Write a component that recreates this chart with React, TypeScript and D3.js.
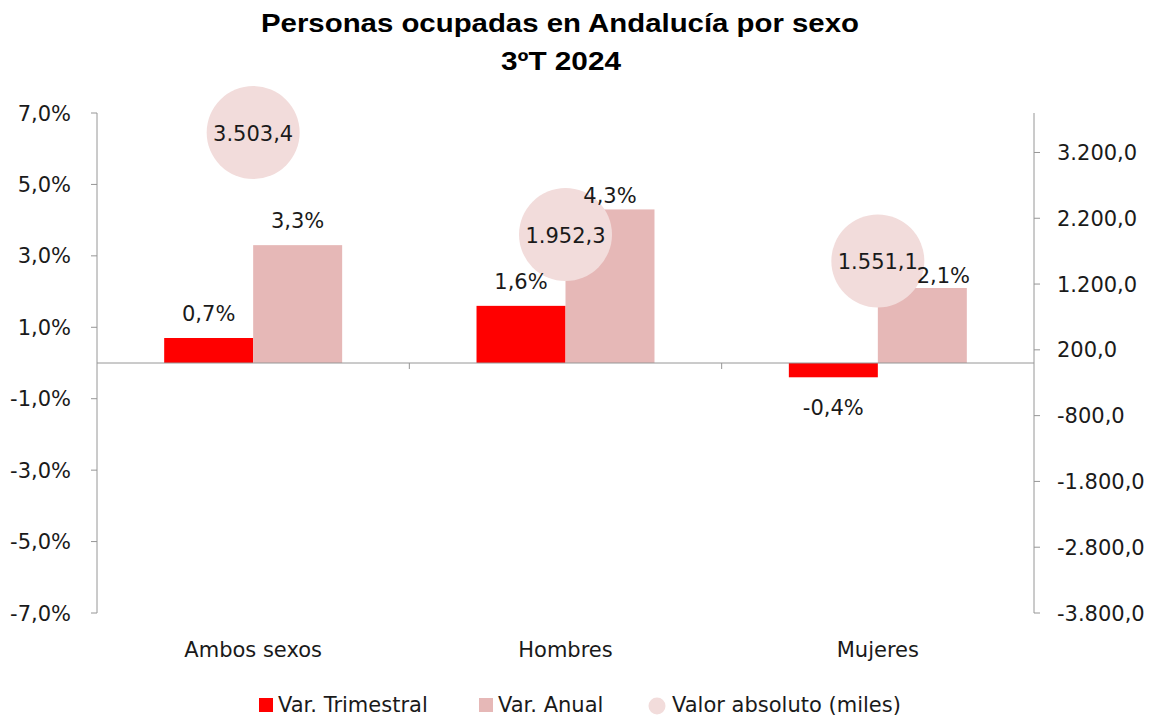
import React from "react";
import * as d3 from "d3";

const categories = ["Ambos sexos", "Hombres", "Mujeres"];
const varTrimestral = [0.7, 1.6, -0.4];
const varAnual = [3.3, 4.3, 2.1];
const valorAbsoluto = [3503.4, 1952.3, 1551.1];
const leftTicks = [7, 5, 3, 1, -1, -3, -5, -7];
const rightTicks = [3200, 2200, 1200, 200, -800, -1800, -2800, -3800];
const seriesNames = ["Var. Trimestral", "Var. Anual", "Valor absoluto (miles)"];
const titleLines = ["Personas ocupadas en Andalucía por sexo", "3ºT 2024"];

// layout: manual nudges of the "Var. Anual" data labels (dx, dy in px), as in the reference
const anualLabelNudge: [number, number][] = [[0, 0], [0, 11], [21, 12]];

const W = 1156, H = 718;
const L = 97, R = 1034, T = 113, B = 613;
const RED = "#ff0000", PINK = "#e6b8b7", BUBBLE = "#f2dcdb";
const AXIS = "#969696";
const TXT = "#1a1a1a";
const FONT = "'DejaVu Sans', sans-serif";
const FS = 21;

const loc = d3.formatLocale({ decimal: ",", thousands: ".", grouping: [3], currency: ["", "€"], minus: "-" });
const f1 = loc.format(",.1f");
const pct = (v: number) => f1(v) + "%";

export default function App() {
  const yL = d3.scaleLinear().domain([-7, 7]).range([B, T]);
  const yR = d3.scaleLinear().domain([-3800, 3800]).range([B, T]);
  const x = d3.scaleBand().domain(categories).range([L, R]).padding(0);
  const sub = d3.scaleBand().domain(["t", "a"]).range([0, x.bandwidth()]).paddingInner(0).paddingOuter(0.755);
  const y0 = yL(0);
  const bw = sub.bandwidth();
  const r = 46.5;

  return (
    <svg width={W} height={H} style={{ position: "absolute", left: 0, top: 0 }} fontFamily={FONT}>
      <rect width={W} height={H} fill="#fff" />
      <text x={560} y={32} textAnchor="middle" fontFamily="'Liberation Sans', Arial, sans-serif" fontWeight="bold" fontSize={26} textLength={598} lengthAdjust="spacingAndGlyphs">{titleLines[0]}</text>
      <text x={561} y={70} textAnchor="middle" fontFamily="'Liberation Sans', Arial, sans-serif" fontWeight="bold" fontSize={26} textLength={120} lengthAdjust="spacingAndGlyphs">{titleLines[1]}</text>

      {/* left axis */}
      <line x1={L} x2={L} y1={T} y2={B} stroke={AXIS} />
      {leftTicks.map((t) => (
        <g key={"l" + t}>
          <line x1={L - 6} x2={L} y1={yL(t)} y2={yL(t)} stroke={AXIS} />
          <text x={71} y={yL(t) + 7.5} textAnchor="end" fontSize={FS} fill={TXT}>{pct(t)}</text>
        </g>
      ))}
      {/* right axis */}
      <line x1={R} x2={R} y1={T} y2={B} stroke={AXIS} />
      {rightTicks.map((t) => (
        <g key={"r" + t}>
          <line x1={R} x2={R + 6} y1={yR(t)} y2={yR(t)} stroke={AXIS} />
          <text x={R + 23} y={yR(t) + 7.5} textAnchor="start" fontSize={FS} fill={TXT}>{f1(t)}</text>
        </g>
      ))}

      {/* bars */}
      {categories.map((c, i) => {
        const gx = x(c)!;
        const vt = varTrimestral[i], va = varAnual[i];
        const xt = gx + sub("t")!, xa = gx + sub("a")!;
        return (
          <g key={c}>
            <rect x={xt} width={bw} y={Math.min(yL(vt), y0)} height={Math.abs(yL(vt) - y0)} fill={RED} />
            <rect x={xa} width={bw} y={Math.min(yL(va), y0)} height={Math.abs(yL(va) - y0)} fill={PINK} />
          </g>
        );
      })}
      {/* zero line */}
      <line x1={L} x2={R} y1={y0} y2={y0} stroke={AXIS} />
      {categories.slice(1).map((c) => (
        <line key={"ct" + c} x1={x(c)!} x2={x(c)!} y1={y0} y2={y0 + 6} stroke={AXIS} />
      ))}

      {/* bubbles */}
      {categories.map((c, i) => {
        const cx = x(c)! + x.bandwidth() / 2;
        const cy = yR(valorAbsoluto[i]);
        return <circle key={"b" + c} cx={cx} cy={cy} r={r} fill={BUBBLE} />;
      })}

      {/* bubble labels */}
      {categories.map((c, i) => {
        const cx = x(c)! + x.bandwidth() / 2;
        const cy = yR(valorAbsoluto[i]);
        return (
          <text key={"bl" + c} x={cx} y={cy + 8} textAnchor="middle" fontSize={FS} fill={TXT}>{f1(valorAbsoluto[i])}</text>
        );
      })}

      {/* bar labels */}
      {categories.map((c, i) => {
        const gx = x(c)!;
        const vt = varTrimestral[i], va = varAnual[i];
        const ct = gx + sub("t")! + bw / 2, ca = gx + sub("a")! + bw / 2;
        const ytLab = vt >= 0 ? yL(vt) - 17 : yL(vt) + 38;
        const [ndx, ndy] = anualLabelNudge[i];
        return (
          <g key={"lab" + c} fontSize={FS} fill={TXT} textAnchor="middle">
            <text x={ct} y={ytLab}>{pct(vt)}</text>
            <text x={ca + ndx} y={yL(va) - 17 + ndy}>{pct(va)}</text>
          </g>
        );
      })}

      {/* category labels */}
      {categories.map((c) => (
        <text key={"cl" + c} x={x(c)! + x.bandwidth() / 2} y={657} textAnchor="middle" fontSize={FS} fill={TXT}>{c}</text>
      ))}

      {/* legend */}
      <g fontSize={FS} fill={TXT}>
        <rect x={259} y={698} width={14} height={14} fill={RED} />
        <text x={278} y={712}>{seriesNames[0]}</text>
        <rect x={479} y={698} width={14} height={14} fill={PINK} />
        <text x={498} y={712}>{seriesNames[1]}</text>
        <circle cx={657} cy={706} r={8.5} fill={BUBBLE} />
        <text x={672} y={712}>{seriesNames[2]}</text>
      </g>
    </svg>
  );
}
